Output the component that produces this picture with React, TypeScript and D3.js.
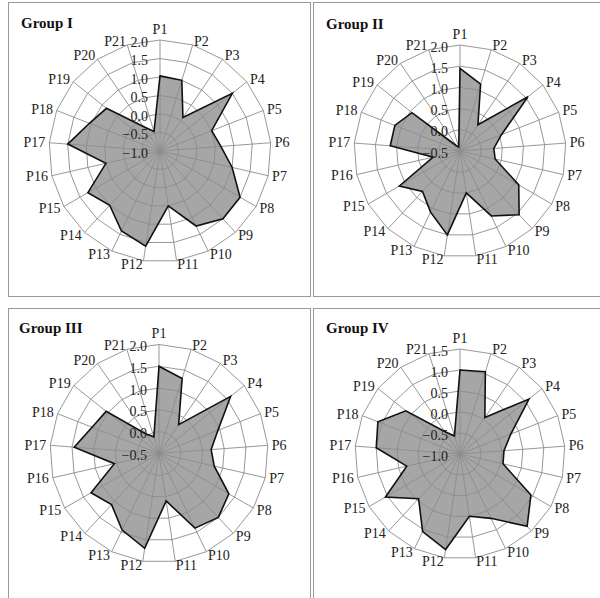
import React from "react";
import * as d3 from "d3";

const categories = ["P1","P2","P3","P4","P5","P6","P7","P8","P9","P10","P11","P12","P13","P14","P15","P16","P17","P18","P19","P20","P21"];

const groupNames = ["Group I", "Group II", "Group III", "Group IV"];

const valuesI = [1.03, 1.0, 0.1, 1.5, 0.5, 0.65, 1.0, 1.5, 1.5, 1.25, 0.5, 1.6, 1.4, 1.0, 1.25, 0.5, 1.5, 1.05, 0.85, -0.2, -0.45];
const valuesII = [1.45, 1.15, 0.25, 1.55, 0.55, 0.3, 0.35, 1.1, 1.55, 1.2, 0.5, 1.5, 1.1, 0.8, 1.15, 0.15, 1.15, 1.15, 0.95, -0.35, -0.4];
const valuesIII = [1.5, 1.3, 0.3, 1.6, 0.95, 0.7, 0.8, 1.35, 1.5, 1.4, 0.6, 1.7, 1.45, 1.1, 1.3, 0.55, 1.45, 1.15, 1.05, 0.05, -0.1];
const valuesIV = [1.0, 1.05, 0.05, 1.1, 0.3, 0.05, 0.05, 0.95, 1.35, 0.7, 0.5, 1.3, 1.05, 0.45, 1.05, 0.3, 1.0, 1.1, 0.65, -0.35, -0.55];

const ticksI = [-1.0, -0.5, 0.0, 0.5, 1.0, 1.5, 2.0];
const ticksII = [-0.5, 0.0, 0.5, 1.0, 1.5, 2.0];
const ticksIII = [-0.5, 0.0, 0.5, 1.0, 1.5, 2.0];
const ticksIV = [-1.0, -0.5, 0.0, 0.5, 1.0, 1.5];

const seriesList = [valuesI, valuesII, valuesIII, valuesIV];
const tickList = [ticksI, ticksII, ticksIII, ticksIV];

const layout = [
  { box: [8, 2, 302, 294], cx: 160, cy: 151, r: 111, tx: 21, ty: 28 },
  { box: [313, 2, 300, 294], cx: 460, cy: 151, r: 106, tx: 326, ty: 29 },
  { box: [8, 308, 302, 300], cx: 159, cy: 453.5, r: 109, tx: 19, ty: 333 },
  { box: [313, 308, 300, 300], cx: 460, cy: 454, r: 105, tx: 326, ty: 333 },
];

const FONT = "'Liberation Serif', 'Times New Roman', serif";
const N = categories.length;
const angle = (i: number) => (i * 2 * Math.PI) / N;

function Panel({ idx }: { idx: number }) {
  const L = layout[idx];
  const ticks = tickList[idx];
  const values = seriesList[idx];
  const rScale = d3.scaleLinear().domain([ticks[0], ticks[ticks.length - 1]]).range([0, L.r]);

  const ringPath = (v: number) =>
    d3
      .lineRadial<number>()
      .angle((_d, i) => angle(i))
      .radius(() => rScale(v))
      .curve(d3.curveLinearClosed)(categories.map(() => v)) || "";

  const dataPath =
    d3
      .lineRadial<number>()
      .angle((_d, i) => angle(i))
      .radius((d) => rScale(d))
      .curve(d3.curveLinearClosed)(values) || "";

  const fmt = d3.format(".1f");

  return (
    <g>
      <rect x={L.box[0] + 0.5} y={L.box[1] + 0.5} width={L.box[2]} height={L.box[3]} fill="#fff" stroke="#9a9a9a" strokeWidth={1} />
      <text x={L.tx} y={L.ty} fontFamily={FONT} fontWeight="bold" fontSize={15} fill="#111">
        {groupNames[idx]}
      </text>
      <g transform={`translate(${L.cx},${L.cy})`}>
        <path d={dataPath} fill="#a6a6a6" stroke="none" />
        {ticks.slice(1).map((t) => (
          <path key={t} d={ringPath(t)} fill="none" stroke="#8c8c8c" strokeWidth={0.9} />
        ))}
        {categories.map((c, i) => {
          const a = angle(i);
          return (
            <line key={c} x1={0} y1={0} x2={L.r * Math.sin(a)} y2={-L.r * Math.cos(a)} stroke="#8c8c8c" strokeWidth={0.9} />
          );
        })}
        <path d={dataPath} fill="none" stroke="#111" strokeWidth={1.6} strokeLinejoin="miter" />
        {ticks.map((t) => (
          <text key={t} x={-12} y={-rScale(t) + 2} textAnchor="end" dominantBaseline="central" fontFamily={FONT} fontSize={14} fill="#222">
            {fmt(t)}
          </text>
        ))}
        {categories.map((c, i) => {
          const a = angle(i);
          const s = Math.sin(a);
          const co = Math.cos(a);
          const rr = L.r + 4;
          const x = rr * s;
          let y = -rr * co;
          if (Math.abs(s) < 0.01) y -= 7 * co;
          const anchor = s > 0.01 ? "start" : s < -0.01 ? "end" : "middle";
          return (
            <text key={c} x={x} y={y} textAnchor={anchor} dominantBaseline="central" fontFamily={FONT} fontSize={14} fill="#222">
              {c}
            </text>
          );
        })}
      </g>
    </g>
  );
}

export default function App() {
  return (
    <svg width={600} height={598} style={{ position: "absolute", left: 0, top: 0, background: "#fff" }}>
      <rect x={0} y={0} width={600} height={598} fill="#fff" />
      {[0, 1, 2, 3].map((i) => (
        <Panel key={i} idx={i} />
      ))}
    </svg>
  );
}
